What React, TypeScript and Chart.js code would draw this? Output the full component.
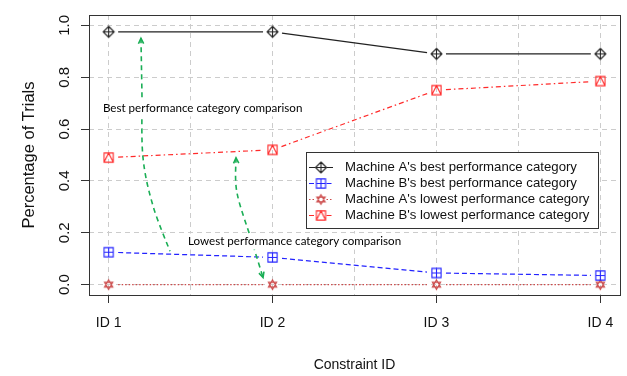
import React, { useEffect, useRef } from 'react';
import { Chart, registerables } from 'chart.js';

Chart.register(...registerables);

// ---------- data ----------
const categories = ['ID 1', 'ID 2', 'ID 3', 'ID 4'];
const xPositions = [1, 2, 3, 4];
const xGridValues = [1, 1.5, 2, 2.5, 3, 3.5, 4];
const yTicks = [0, 0.2, 0.4, 0.6, 0.8, 1.0];
const yTickLabels = ['0.0', '0.2', '0.4', '0.6', '0.8', '1.0'];
const seriesNames = [
  "Machine A's best performance category",
  "Machine B's best performance category",
  "Machine A's lowest performance category",
  "Machine B's lowest performance category",
];
const machineABest = [0.975, 0.975, 0.89, 0.89];
const machineBBest = [0.125, 0.105, 0.045, 0.035];
const machineALowest = [0, 0, 0, 0];
const machineBLowest = [0.49, 0.52, 0.75, 0.785];

const annotationTexts = ['Best performance category comparison', 'Lowest performance category comparison'];
// annotation anchors in data coordinates (left edge, vertical middle)
const annotationAnchors = [
  [0.965, 0.68],
  [1.484, 0.166],
];
// arrow waypoints in data coordinates
const arrowBest = [
  [1.197, 0.95],
  [1.203, 0.74],
  [1.209, 0.493],
  [1.27, 0.305],
  [1.374, 0.129],
];
const arrowLowest = [
  [1.777, 0.489],
  [1.783, 0.354],
  [1.874, 0.166],
  [1.942, 0.0275],
];

// ---------- styles ----------
const SANS = "'Liberation Sans', Arial, sans-serif";
const NOTE_FONT = "Lato, 'Open Sans', sans-serif";
const GRID = '#cccccc';
const AXIS = '#333333';
const TEXT = '#111111';
const GAP = 9.5;

type Kind = 'diamondPlus' | 'squarePlus' | 'star' | 'squareTriangle';

function makeMarker(kind: Kind, color: string, r: number): HTMLCanvasElement {
  const s = 15;
  const c = document.createElement('canvas');
  c.width = s;
  c.height = s;
  const g = c.getContext('2d')!;
  const m = s / 2;
  g.strokeStyle = color;
  g.lineWidth = 1.1;
  g.beginPath();
  if (kind === 'diamondPlus') {
    g.moveTo(m, m - r);
    g.lineTo(m + r, m);
    g.lineTo(m, m + r);
    g.lineTo(m - r, m);
    g.closePath();
    g.moveTo(m, m - r);
    g.lineTo(m, m + r);
    g.moveTo(m - r, m);
    g.lineTo(m + r, m);
  } else if (kind === 'squarePlus') {
    g.rect(m - r, m - r, 2 * r, 2 * r);
    g.moveTo(m, m - r);
    g.lineTo(m, m + r);
    g.moveTo(m - r, m);
    g.lineTo(m + r, m);
  } else if (kind === 'squareTriangle') {
    g.rect(m - r, m - r, 2 * r, 2 * r);
    g.moveTo(m - r, m + r);
    g.lineTo(m, m - r);
    g.lineTo(m + r, m + r);
  } else {
    const h = r * 0.866;
    g.moveTo(m, m - r);
    g.lineTo(m + h, m + r / 2);
    g.lineTo(m - h, m + r / 2);
    g.closePath();
    g.moveTo(m, m + r);
    g.lineTo(m + h, m - r / 2);
    g.lineTo(m - h, m - r / 2);
    g.closePath();
  }
  g.stroke();
  return c;
}

function drawCurve(ctx: CanvasRenderingContext2D, pts: { x: number; y: number }[]) {
  ctx.moveTo(pts[0].x, pts[0].y);
  for (let i = 0; i < pts.length - 1; i++) {
    const p0 = pts[i - 1] || pts[i];
    const p1 = pts[i];
    const p2 = pts[i + 1];
    const p3 = pts[i + 2] || p2;
    ctx.bezierCurveTo(
      p1.x + (p2.x - p0.x) / 6,
      p1.y + (p2.y - p0.y) / 6,
      p2.x - (p3.x - p1.x) / 6,
      p2.y - (p3.y - p1.y) / 6,
      p2.x,
      p2.y
    );
  }
}

function arrowHead(ctx: CanvasRenderingContext2D, tip: { x: number; y: number }, from: { x: number; y: number }) {
  const ang = Math.atan2(tip.y - from.y, tip.x - from.x);
  const len = 6;
  const spread = 0.45;
  ctx.beginPath();
  ctx.moveTo(tip.x - len * Math.cos(ang - spread), tip.y - len * Math.sin(ang - spread));
  ctx.lineTo(tip.x, tip.y);
  ctx.lineTo(tip.x - len * Math.cos(ang + spread), tip.y - len * Math.sin(ang + spread));
  ctx.stroke();
}

export default function App() {
  const ref = useRef<HTMLCanvasElement>(null);

  useEffect(() => {
    if (!ref.current) return;
    const markers = [
      makeMarker('diamondPlus', '#222222', 5.5),
      makeMarker('squarePlus', '#2323ff', 4.6),
      makeMarker('star', '#cc4a4a', 4.8),
      makeMarker('squareTriangle', '#ff2a2a', 4.6),
    ];
    const colors = ['#222222', '#2323ff', '#cc4a4a', '#ff2a2a'];
    const dashes: number[][] = [[], [5, 3], [1.5, 2], [5, 3, 1.5, 3]];
    const values = [machineABest, machineBBest, machineALowest, machineBLowest];

    const datasets = values.map((vals, i) => ({
      label: seriesNames[i],
      data: vals.map((v, k) => ({ x: xPositions[k], y: v })),
      borderColor: colors[i],
      backgroundColor: colors[i],
      borderWidth: 1.2,
      borderDash: dashes[i],
      showLine: false,
      pointStyle: markers[i] as any,
      pointRadius: 5,
    }));

    const gapLines = {
      id: 'gapLines',
      beforeDatasetsDraw(chart: any) {
        const ctx: CanvasRenderingContext2D = chart.ctx;
        const a = chart.chartArea;
        ctx.save();
        ctx.beginPath();
        ctx.rect(a.left, a.top, a.right - a.left, a.bottom - a.top);
        ctx.clip();
        chart.data.datasets.forEach((ds: any, i: number) => {
          const pts = chart.getDatasetMeta(i).data;
          ctx.strokeStyle = ds.borderColor;
          ctx.lineWidth = ds.borderWidth;
          ctx.setLineDash(ds.borderDash || []);
          for (let k = 0; k < pts.length - 1; k++) {
            const p = pts[k];
            const q = pts[k + 1];
            const dx = q.x - p.x;
            const dy = q.y - p.y;
            const L = Math.hypot(dx, dy);
            if (L <= 2 * GAP) continue;
            const ux = dx / L;
            const uy = dy / L;
            ctx.beginPath();
            ctx.moveTo(p.x + ux * GAP, p.y + uy * GAP);
            ctx.lineTo(q.x - ux * GAP, q.y - uy * GAP);
            ctx.stroke();
          }
        });
        ctx.restore();
      },
    };

    const decorations = {
      id: 'decorations',
      afterDraw(chart: any) {
        const ctx: CanvasRenderingContext2D = chart.ctx;
        const a = chart.chartArea;
        const xs = chart.scales.x;
        const ys = chart.scales.y;
        const P = (p: number[]) => ({ x: xs.getPixelForValue(p[0]), y: ys.getPixelForValue(p[1]) });
        ctx.save();
        // plot box
        ctx.setLineDash([]);
        ctx.strokeStyle = AXIS;
        ctx.lineWidth = 1;
        ctx.strokeRect(Math.round(a.left) + 0.5, Math.round(a.top) + 0.5, Math.round(a.right - a.left), Math.round(a.bottom - a.top));

        // arrows
        ctx.strokeStyle = '#1aae55';
        ctx.lineWidth = 1.6;
        const arrows = [
          { pts: arrowBest.map(P), start: true, end: false },
          { pts: arrowLowest.map(P), start: true, end: true },
        ];
        arrows.forEach((ar) => {
          ctx.setLineDash([5, 4]);
          ctx.beginPath();
          drawCurve(ctx, ar.pts);
          ctx.stroke();
          ctx.setLineDash([]);
          const n = ar.pts.length;
          if (ar.start) arrowHead(ctx, ar.pts[0], { x: ar.pts[1].x, y: ar.pts[1].y });
          if (ar.end) arrowHead(ctx, ar.pts[n - 1], { x: ar.pts[n - 2].x, y: ar.pts[n - 2].y });
        });

        // annotation texts with white background
        ctx.font = `11.6px ${NOTE_FONT}`;
        ctx.textBaseline = 'middle';
        ctx.textAlign = 'left';
        annotationTexts.forEach((t, i) => {
          const p = P(annotationAnchors[i]);
          const w = ctx.measureText(t).width;
          ctx.fillStyle = '#ffffff';
          ctx.fillRect(p.x - 2, p.y - 8, w + 4, 16);
          ctx.fillStyle = '#000000';
          ctx.fillText(t, p.x, p.y);
        });

        // legend
        const lx = 306;
        const ly = 152;
        const lw = 292;
        const lh = 76;
        ctx.fillStyle = '#ffffff';
        ctx.fillRect(lx, ly, lw, lh);
        ctx.strokeStyle = AXIS;
        ctx.lineWidth = 1;
        ctx.strokeRect(lx + 0.5, ly + 0.5, lw, lh);
        ctx.font = `13.2px ${SANS}`;
        ctx.textBaseline = 'middle';
        chart.data.datasets.forEach((ds: any, i: number) => {
          const ry = ly + 15.5 + i * 16;
          const cx = 321;
          ctx.strokeStyle = ds.borderColor;
          ctx.lineWidth = ds.borderWidth;
          ctx.setLineDash(ds.borderDash || []);
          ctx.beginPath();
          ctx.moveTo(309, ry);
          ctx.lineTo(cx - 5.5, ry);
          ctx.moveTo(cx + 5.5, ry);
          ctx.lineTo(333, ry);
          ctx.stroke();
          ctx.setLineDash([]);
          const mk = ds.pointStyle as HTMLCanvasElement;
          ctx.drawImage(mk, cx - mk.width / 2, ry - mk.height / 2);
          ctx.fillStyle = TEXT;
          ctx.fillText(ds.label, 345, ry);
        });
        ctx.restore();
      },
    };

    const chart = new Chart(ref.current, {
      type: 'line',
      data: { datasets: datasets as any },
      plugins: [gapLines, decorations],
      options: {
        animation: false,
        responsive: false,
        devicePixelRatio: 1,
        layout: { padding: { top: 7, right: 7, left: 0, bottom: 0 } },
        plugins: { legend: { display: false }, tooltip: { enabled: false } },
        scales: {
          x: {
            type: 'linear',
            min: 0.88,
            max: 4.12,
            afterBuildTicks: (s: any) => {
              s.ticks = xGridValues.map((v) => ({ value: v }));
            },
            afterFit: (s: any) => {
              s.height = 81;
            },
            ticks: {
              autoSkip: false,
              minRotation: 0,
              maxRotation: 0,
              padding: 12,
              color: TEXT,
              font: { family: SANS, size: 14 },
              callback: (v: any) => {
                const i = xPositions.indexOf(Number(v));
                return i >= 0 ? categories[i] : '';
              },
            },
            grid: {
              color: GRID,
              lineWidth: 1,
              drawTicks: true,
              tickLength: 8,
              tickWidth: 1,
              tickColor: (c: any) => (c.tick && xPositions.includes(c.tick.value) ? AXIS : 'rgba(0,0,0,0)'),
            },
            border: { display: false, dash: [5, 4] },
            title: {
              display: true,
              text: 'Constraint ID',
              color: TEXT,
              font: { family: SANS, size: 14 },
              padding: { top: 0, bottom: 2 },
            },
          },
          y: {
            type: 'linear',
            min: -0.04,
            max: 1.04,
            afterBuildTicks: (s: any) => {
              s.ticks = yTicks.map((v) => ({ value: v }));
            },
            afterFit: (s: any) => {
              s.width = 89;
            },
            ticks: {
              autoSkip: false,
              minRotation: 90,
              maxRotation: 90,
              crossAlign: 'center',
              padding: 6,
              color: TEXT,
              font: { family: SANS, size: 15 },
              callback: (v: any) => {
                const i = yTicks.findIndex((t) => Math.abs(t - Number(v)) < 1e-9);
                return i >= 0 ? yTickLabels[i] : '';
              },
            },
            grid: { color: GRID, lineWidth: 1, tickLength: 8, tickWidth: 1, tickColor: AXIS },
            border: { display: false, dash: [5, 4] },
            title: {
              display: true,
              text: 'Percentage of Trials',
              color: TEXT,
              font: { family: SANS, size: 16.5 },
              padding: { top: 20, bottom: 0 },
            },
          },
        },
      } as any,
    });
    return () => chart.destroy();
  }, []);

  return (
    <div style={{ position: 'absolute', left: 0, top: 0, width: 627, height: 376, background: '#ffffff' }}>
      <canvas ref={ref} width={627} height={376} />
    </div>
  );
}
